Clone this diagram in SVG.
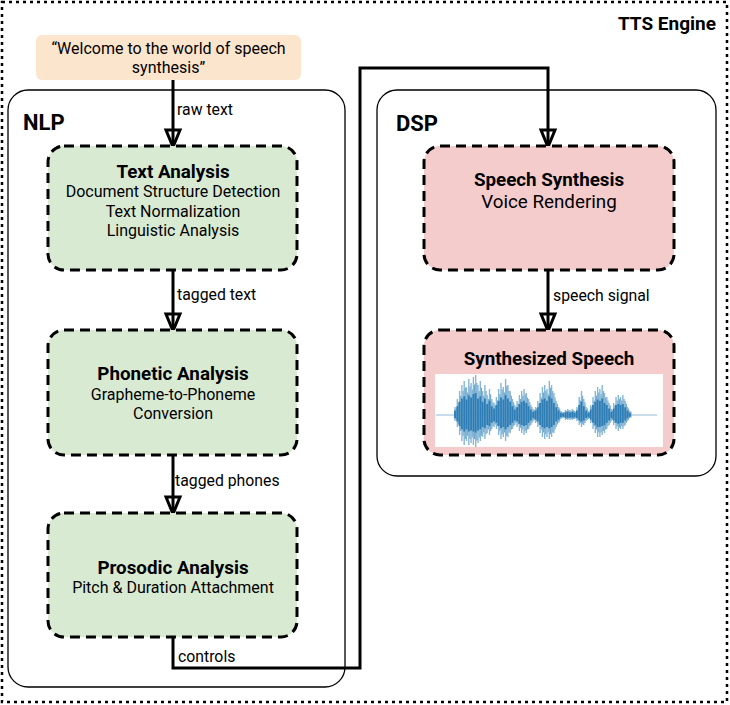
<svg xmlns="http://www.w3.org/2000/svg" xmlns:xlink="http://www.w3.org/1999/xlink" width="730" height="705" viewBox="0 0 730 705">
<style>
text{font-family:Roboto,"Liberation Sans",sans-serif;fill:#000}
.title{font-weight:bold;font-size:18.8px}
.sub{font-size:16px}
.lbl{font-size:15.8px}
.group{fill:none;stroke:#000;stroke-width:1.3}
.node{stroke:#000;stroke-width:3;stroke-dasharray:10 6}
.green{fill:#d9ead3}
.pink{fill:#f4cccc}
.conn{fill:none;stroke:#000;stroke-width:3;marker-end:url(#arr)}
</style>
<defs>
<marker id="arr" markerUnits="userSpaceOnUse" markerWidth="24" markerHeight="20" refX="16" refY="7" orient="auto" overflow="visible">
<path d="M0,0 L17,7 L0,14 Z" fill="none" stroke="#000" stroke-width="3" stroke-linejoin="miter"/>
</marker>
<path id="wave" d="M0 -8V6M2 -16V12M4 -24V20M6 -30V26M8 -34V30M10 -28V26M12 -36V30M14 -32V28M16 -38V30M18 -40V32M20 -30V28M22 -34V26M24 -24V22M26 -30V24M28 -20V18M30 -26V20M32 -16V14M34 -12V12M36 -18V14M38 -26V20M40 -32V24M42 -28V22M44 -36V26M46 -30V22M48 -24V18M50 -16V14M52 -10V10M54 -14V12M56 -20V16M58 -24V18M60 -26V20M62 -22V18M64 -16V14M66 -10V10M68 -6V6M70 -8V8M72 -14V12M74 -22V18M76 -28V22M78 -30V24M80 -26V22M82 -34V24M84 -30V22M86 -22V18M88 -14V12M90 -8V8M92 -4V4M94 -3V3M96 -5V5M98 -6V5M100 -5V5M102 -6V5M104 -4V4M106 -8V6M108 -18V10M110 -24V12M112 -16V10M114 -8V6M116 -4V4M118 -10V8M120 -18V14M122 -24V18M124 -28V22M126 -26V22M128 -30V20M130 -22V18M132 -18V14M134 -12V10M136 -6V6M138 -12V10M140 -18V14M142 -20V16M144 -18V14M146 -20V14M148 -14V10M150 -8V6M152 -4V3"/>
</defs>

<g id="tts-engine">
<rect x="2" y="2" width="725" height="700" fill="#fff" stroke="#000" stroke-width="2.5" stroke-dasharray="3 4"/>
<text x="716" y="30" text-anchor="end" style="font-weight:bold;font-size:19px">TTS Engine</text>
</g>

<g id="nlp">
<rect class="group" x="8" y="90" width="337" height="597" rx="20"/>
<text x="23" y="130" style="font-weight:bold;font-size:22px">NLP</text>
</g>

<g id="dsp">
<rect class="group" x="377" y="90" width="339" height="386" rx="20"/>
<text x="396" y="131" style="font-weight:bold;font-size:22px">DSP</text>
</g>

<g id="input-text">
<rect x="36" y="35" width="265" height="45" rx="6" fill="#fce5cd"/>
<text class="sub" x="168.5" y="54" text-anchor="middle">“Welcome to the world of speech</text>
<text class="sub" x="168.5" y="73" text-anchor="middle">synthesis”</text>
</g>

<g id="connectors">
<path class="conn" d="M173,80 V146"/>
<text class="lbl" x="177" y="115">raw text</text>
<path class="conn" d="M173,270 V330"/>
<text class="lbl" x="177" y="300">tagged text</text>
<path class="conn" d="M173,455 V513"/>
<text class="lbl" x="175" y="486">tagged phones</text>
<path class="conn" d="M173,637 V668 H360 V68 H548 V146"/>
<text class="lbl" x="178" y="662">controls</text>
<path class="conn" d="M548,270 V330"/>
<text class="lbl" x="553" y="301">speech signal</text>
</g>

<g id="text-analysis">
<rect class="node green" x="48" y="146" width="249" height="124" rx="16"/>
<text class="title" x="173" y="178" text-anchor="middle">Text Analysis</text>
<text class="sub" x="173" y="197" text-anchor="middle">Document Structure Detection</text>
<text class="sub" x="173" y="217" text-anchor="middle">Text Normalization</text>
<text class="sub" x="173" y="236" text-anchor="middle">Linguistic Analysis</text>
</g>

<g id="phonetic-analysis">
<rect class="node green" x="48" y="330" width="249" height="125" rx="16"/>
<text class="title" x="173" y="380" text-anchor="middle">Phonetic Analysis</text>
<text class="sub" x="173" y="400" text-anchor="middle">Grapheme-to-Phoneme</text>
<text class="sub" x="173" y="419" text-anchor="middle">Conversion</text>
</g>

<g id="prosodic-analysis">
<rect class="node green" x="48" y="513" width="249" height="124" rx="16"/>
<text class="title" x="173" y="574" text-anchor="middle">Prosodic Analysis</text>
<text class="sub" x="173" y="593" text-anchor="middle">Pitch &amp; Duration Attachment</text>
</g>

<g id="speech-synthesis">
<rect class="node pink" x="424" y="146" width="250" height="124" rx="16"/>
<text class="title" x="549" y="186" text-anchor="middle">Speech Synthesis</text>
<text x="549" y="208" text-anchor="middle" style="font-size:18.8px">Voice Rendering</text>
</g>

<g id="synthesized-speech">
<rect class="node pink" x="424" y="330" width="250" height="125" rx="16"/>
<text class="title" x="549" y="365" text-anchor="middle">Synthesized Speech</text>
<rect x="435" y="374" width="228" height="73" fill="#fff"/>
<line x1="436" y1="415" x2="657" y2="415" stroke="#8fbcd9" stroke-width="1"/>
<g transform="translate(455 415) scale(1.15 1)" fill="none">
<use xlink:href="#wave" stroke="#86b7d6" stroke-width="1.2"/>
<use xlink:href="#wave" transform="translate(1 0) scale(1 0.8)" stroke="#6ea8cf" stroke-width="1"/>
<use xlink:href="#wave" transform="scale(1 0.55)" stroke="#2f7db5" stroke-width="1.6"/>
</g>
</g>
</svg>
